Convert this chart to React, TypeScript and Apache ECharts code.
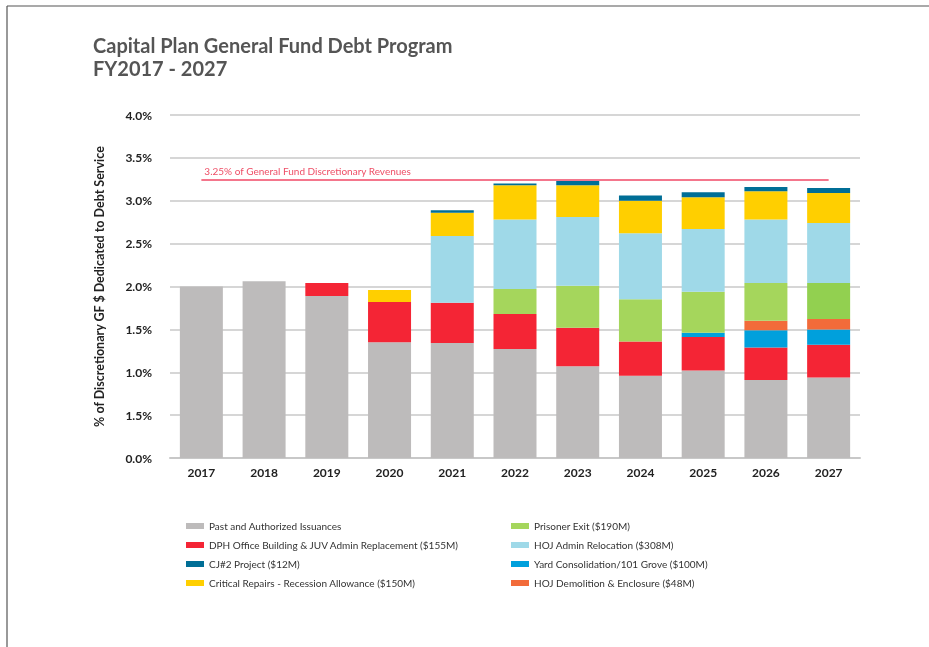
import React, { useEffect, useRef } from "react";
import * as echarts from "echarts";

const years = ["2017", "2018", "2019", "2020", "2021", "2022", "2023", "2024", "2025", "2026", "2027"];
const yTickLabels = ["0.0%", "1.5%", "1.0%", "1.5%", "2.0%", "2.5%", "3.0%", "3.5%", "4.0%"];

const pastIssuances = [2.0, 2.06, 1.89, 1.35, 1.34, 1.27, 1.07, 0.96, 1.02, 0.91, 0.94];
const dphOffice = [0, 0, 0.15, 0.47, 0.47, 0.41, 0.45, 0.4, 0.39, 0.38, 0.38];
const yardConsolidation = [0, 0, 0, 0, 0, 0, 0, 0, 0.05, 0.2, 0.18];
const hojDemolition = [0, 0, 0, 0, 0, 0, 0, 0, 0, 0.11, 0.12];
const prisonerExit = [0, 0, 0, 0, 0, 0.29, 0.49, 0.49, 0.48, 0.44, 0.42];
const hojAdmin = [0, 0, 0, 0, 0.78, 0.81, 0.8, 0.77, 0.73, 0.74, 0.7];
const criticalRepairs = [0, 0, 0, 0.14, 0.27, 0.4, 0.37, 0.38, 0.37, 0.33, 0.35];
const cj2Project = [0, 0, 0, 0, 0.03, 0.02, 0.05, 0.06, 0.06, 0.05, 0.06];

const debtLimit = 3.25;
const debtLimitLabel = "3.25% of General Fund Discretionary Revenues";

const names = {
  past: "Past and Authorized Issuances",
  dph: "DPH Office Building & JUV Admin Replacement ($155M)",
  cj2: "CJ#2 Project ($12M)",
  crit: "Critical Repairs - Recession Allowance ($150M)",
  prison: "Prisoner Exit ($190M)",
  hoj: "HOJ Admin Relocation ($308M)",
  yard: "Yard Consolidation/101 Grove ($100M)",
  demo: "HOJ Demolition & Enclosure ($48M)",
};

export default function App() {
  const ref = useRef<HTMLDivElement>(null);
  useEffect(() => {
    if (!ref.current) return;
    const chart = echarts.init(ref.current, undefined, { renderer: "svg" });
    const toData = (arr: number[]) => arr.map((v) => (v === 0 ? null : v));
    const mk = (name: string, data: any[], color: string, extra: any = {}) => ({
      name,
      type: "bar",
      stack: "total",
      barWidth: 43,
      data,
      itemStyle: { color },
      emphasis: { disabled: true },
      ...extra,
    });
    const prisonData = prisonerExit.map((v, i) =>
      v === 0 ? null : i === years.length - 1 ? { value: v, itemStyle: { color: "#92d050" } } : v
    );
    const legendText = { fontSize: 10, color: "#333", fontFamily: "Lato", lineHeight: 12 };
    chart.setOption({
      animation: false,
      textStyle: { fontFamily: "Lato" },
      title: {
        text: "Capital Plan General Fund Debt Program\nFY2017 - 2027",
        left: 88,
        top: 28,
        textStyle: { fontSize: 20, fontWeight: "bold", color: "#555", lineHeight: 23, fontFamily: "Lato" },
      },
      grid: { left: 170, right: 69, top: 115, bottom: 189 },
      legend: [
        {
          orient: "vertical",
          left: 181,
          top: 515,
          itemWidth: 18,
          itemHeight: 6,
          itemGap: 7,
          icon: "rect",
          textStyle: legendText,
          data: [names.past, names.dph, names.cj2, names.crit],
        },
        {
          orient: "vertical",
          left: 506,
          top: 515,
          itemWidth: 18,
          itemHeight: 6,
          itemGap: 7,
          icon: "rect",
          textStyle: legendText,
          data: [names.prison, names.hoj, names.yard, names.demo],
        },
      ],
      xAxis: {
        type: "category",
        data: years,
        axisTick: { show: false },
        axisLine: { lineStyle: { color: "#c8c8c8", width: 2 } },
        axisLabel: { fontSize: 12, fontWeight: "bold", color: "#222", margin: 8 },
      },
      yAxis: {
        type: "value",
        min: 0,
        max: 4,
        interval: 0.5,
        name: "% of Discretionary GF $ Dedicated to Debt Service",
        nameLocation: "middle",
        nameGap: 64,
        nameTextStyle: { fontSize: 12.5, fontWeight: "bold", color: "#222" },
        axisLabel: {
          fontSize: 12,
          fontWeight: "bold",
          color: "#222",
          margin: 18,
          formatter: (v: number) => yTickLabels[Math.round(v / 0.5)] ?? "",
        },
        splitLine: { lineStyle: { color: "#c8c8c8", width: 1.5 } },
      },
      series: [
        mk(names.past, toData(pastIssuances), "#bdbbbb"),
        mk(names.dph, toData(dphOffice), "#f42535"),
        mk(names.yard, toData(yardConsolidation), "#00a0dc"),
        mk(names.demo, toData(hojDemolition), "#f26b3a"),
        mk(names.prison, prisonData, "#a5d65c"),
        mk(names.hoj, toData(hojAdmin), "#9fd9e8"),
        mk(names.crit, toData(criticalRepairs), "#ffcf00"),
        mk(names.cj2, toData(cj2Project), "#006e96", {
          markLine: {
            symbol: "none",
            silent: true,
            lineStyle: { color: "#f4768c", width: 2, type: "solid" },
            label: {
              show: true,
              position: "insideStartTop",
              formatter: debtLimitLabel,
              color: "#ee4e66",
              fontSize: 10,
              distance: 3,
            },
            data: [
              [
                { coord: [years[0], debtLimit] },
                { coord: [years[years.length - 1], debtLimit] },
              ],
            ],
          },
        }),
      ],
      graphic: [
        { type: "line", shape: { x1: 7, y1: 6, x2: 929, y2: 6 }, style: { stroke: "#555", lineWidth: 1.2 } },
        { type: "line", shape: { x1: 7, y1: 6, x2: 7, y2: 647 }, style: { stroke: "#555", lineWidth: 1.2 } },
      ],
    });
    return () => chart.dispose();
  }, []);
  return <div ref={ref} style={{ position: "fixed", left: 0, top: 0, width: 929, height: 647 }} />;
}
